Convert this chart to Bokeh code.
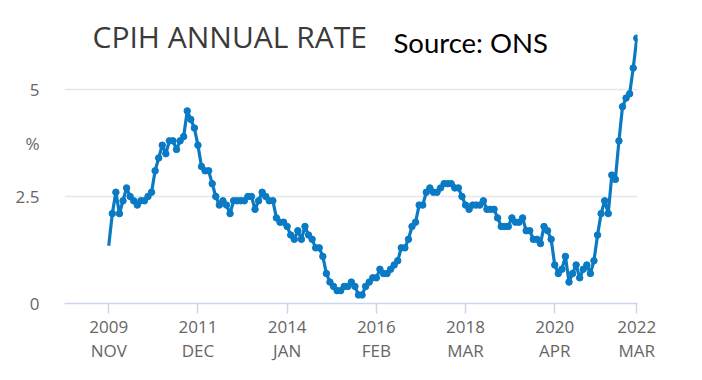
from bokeh.plotting import figure
from bokeh.models import FixedTicker, LinearAxis, Label, Range1d
from bokeh.embed import file_html
from bokeh.resources import INLINE

# CPIH annual rate (%), monthly, Nov 2009 .. Mar 2022
cpih = [
    1.35, 2.1,                                                   # Nov-Dec 2009
    2.6, 2.1, 2.4, 2.7, 2.5, 2.4, 2.3, 2.4, 2.4, 2.5, 2.6, 3.1,  # 2010
    3.4, 3.7, 3.5, 3.8, 3.8, 3.6, 3.8, 3.9, 4.5, 4.3, 4.1, 3.7,  # 2011
    3.2, 3.1, 3.1, 2.8, 2.5, 2.3, 2.4, 2.3, 2.1, 2.4, 2.4, 2.4,  # 2012
    2.4, 2.5, 2.5, 2.2, 2.4, 2.6, 2.5, 2.4, 2.4, 2.0, 1.9, 1.9,  # 2013
    1.8, 1.6, 1.5, 1.7, 1.5, 1.8, 1.6, 1.5, 1.3, 1.3, 1.1, 0.7,  # 2014
    0.5, 0.4, 0.3, 0.3, 0.4, 0.4, 0.5, 0.4, 0.2, 0.2, 0.4, 0.5,  # 2015
    0.6, 0.6, 0.8, 0.7, 0.7, 0.8, 0.9, 1.0, 1.3, 1.3, 1.5, 1.8,  # 2016
    1.9, 2.3, 2.3, 2.6, 2.7, 2.6, 2.6, 2.7, 2.8, 2.8, 2.8, 2.7,  # 2017
    2.7, 2.5, 2.3, 2.2, 2.3, 2.3, 2.3, 2.4, 2.2, 2.2, 2.2, 2.0,  # 2018
    1.8, 1.8, 1.8, 2.0, 1.9, 1.9, 2.0, 1.7, 1.7, 1.5, 1.5, 1.4,  # 2019
    1.8, 1.7, 1.5, 0.9, 0.7, 0.8, 1.1, 0.5, 0.7, 0.9, 0.6, 0.8,  # 2020
    0.9, 0.7, 1.0, 1.6, 2.1, 2.4, 2.1, 3.0, 2.9, 3.8, 4.6, 4.8,  # 2021
    4.9, 5.5, 6.2,                                               # Jan-Mar 2022
]
month_index = list(range(len(cpih)))  # 0 = Nov 2009

x_tick_pos = [0, 25, 50, 75, 100, 125, 148]
x_tick_years = ["2009", "2011", "2014", "2016", "2018", "2020", "2022"]
x_tick_months = ["NOV", "DEC", "JAN", "FEB", "MAR", "APR", "MAR"]
y_ticks = [0, 2.5, 5]
y_unit_pos = 3.75
y_tick_labels = ["0", "2.5", "5"]

LINE = "#0a7ac4"
FONT = "Open Sans"

p = figure(width=687, height=372, output_backend="svg", toolbar_location=None,
           x_axis_location=None, y_axis_location="left",
           x_range=Range1d(-12.4, 148.2), y_range=Range1d(0, 6.846),
           min_border_left=64, min_border_right=50, min_border_top=10, min_border_bottom=69)
p.outline_line_color = None
p.background_fill_color = "white"
p.border_fill_color = "white"

# y axis (numbers plus the "%" unit label)
ya = p.yaxis[0]
ya.ticker = FixedTicker(ticks=y_ticks + [y_unit_pos])
overrides = {t: l for t, l in zip(y_ticks, y_tick_labels)}
overrides[y_unit_pos] = "%"
ya.major_label_overrides = overrides
ya.axis_line_color = None
ya.major_tick_line_color = None
ya.minor_tick_line_color = None
ya.major_tick_out = 0
ya.major_tick_in = 0
ya.major_label_standoff = 25
ya.major_label_text_font = FONT
ya.major_label_text_font_size = "17px"
ya.major_label_text_color = "#666666"

p.ygrid.ticker = FixedTicker(ticks=y_ticks)
p.ygrid.grid_line_color = "#e6e6e6"
p.ygrid.grid_line_width = 1.5
p.xgrid.grid_line_color = None

# x axes (years, then months)
xa = LinearAxis(ticker=FixedTicker(ticks=x_tick_pos),
                major_label_overrides={t: l for t, l in zip(x_tick_pos, x_tick_years)})
xa.axis_line_color = "#ccd6eb"
xa.axis_line_width = 1.5
xa.major_tick_line_color = "#ccd6eb"
xa.major_tick_line_width = 1.5
xa.major_tick_out = 10
xa.major_tick_in = 0
xa.minor_tick_line_color = None
xa.major_label_standoff = 7
xa.major_label_text_font = FONT
xa.major_label_text_font_size = "17px"
xa.major_label_text_color = "#666666"
p.add_layout(xa, "below")

xm = LinearAxis(ticker=FixedTicker(ticks=x_tick_pos),
                major_label_overrides={t: l for t, l in zip(x_tick_pos, x_tick_months)})
xm.axis_line_color = None
xm.major_tick_line_color = None
xm.minor_tick_line_color = None
xm.major_tick_out = 0
xm.major_tick_in = 0
xm.major_label_standoff = 3
xm.major_label_text_font = FONT
xm.major_label_text_font_size = "17px"
xm.major_label_text_color = "#666666"
p.add_layout(xm, "below")

# series
p.line(month_index, cpih, line_color=LINE, line_width=3.2)
p.scatter(month_index[1:], cpih[1:], size=6.5, fill_color=LINE, line_color=LINE)

# texts
p.add_layout(Label(x=-4.55, y=6.24, text="CPIH ANNUAL RATE", text_align="left",
                   text_baseline="alphabetic", text_font=FONT,
                   text_font_size="30px", text_color="#3a3a3a"))
p.add_layout(Label(x=79.8, y=6.10, text="Source: ONS", text_align="left",
                   text_baseline="alphabetic", text_font="Lato",
                   text_font_size="27.5px", text_color="#000000"))

open("out.html", "w").write(file_html(p, INLINE))
